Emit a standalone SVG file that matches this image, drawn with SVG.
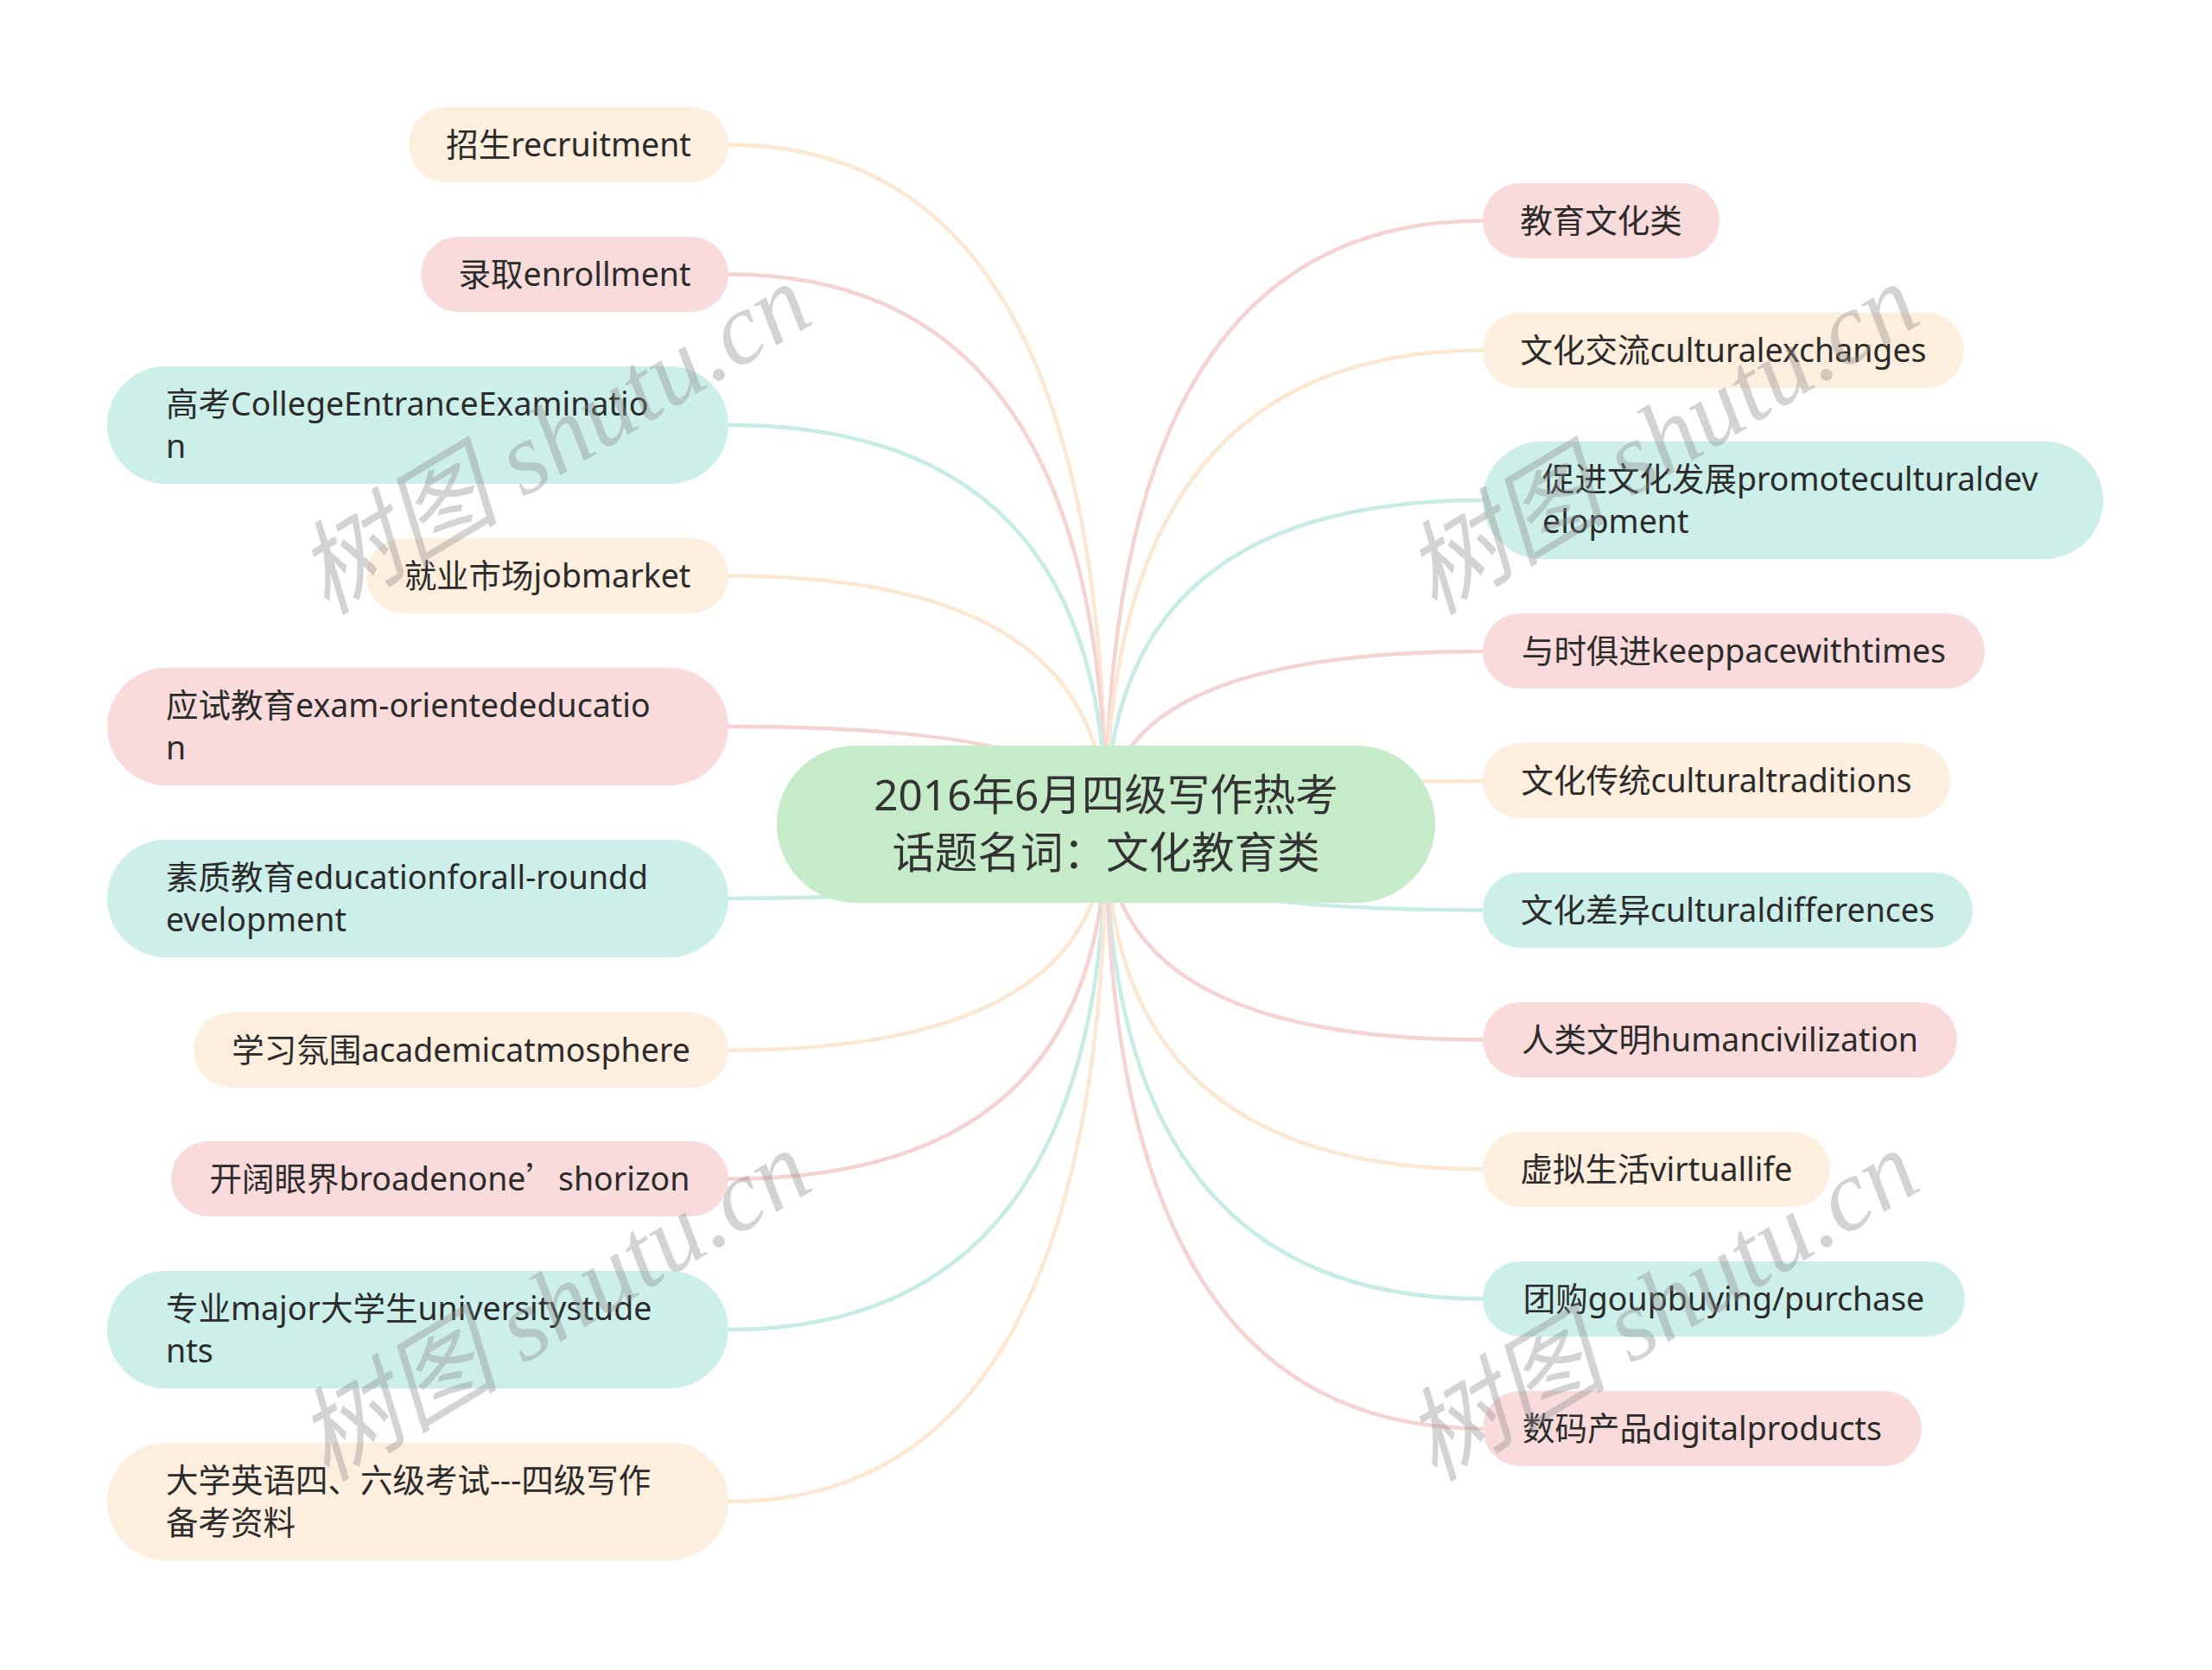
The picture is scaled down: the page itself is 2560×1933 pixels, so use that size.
<svg xmlns="http://www.w3.org/2000/svg" width="2560" height="1933" viewBox="0 0 2560 1933">
<style>
.bg{fill:#ffffff}
.c{fill:none;stroke-width:4.5;stroke-linecap:round}
.cp{stroke:#f6d3d3}
.co{stroke:#fce7d2}
.ct{stroke:#c6ece5}
.np{fill:#fadbdb}
.no{fill:#fdeedd}
.nt{fill:#cdefe9}
.root{fill:#c6ebc9}
text{font-family:"Noto Sans","Noto Sans CJK SC",sans-serif;fill:#2b2b2b}
.t{font-size:37.5px}
.m{text-anchor:middle}
.rt{font-size:49.5px;text-anchor:middle;fill:#333333}
.wm{font-family:"Liberation Serif","Noto Sans CJK SC",serif;font-style:italic;font-size:118px;fill:#8c8c8c;fill-opacity:0.38;text-anchor:middle}
.q{font-family:"Noto Sans CJK SC",sans-serif}
</style>
<rect class="bg" x="0" y="0" width="2560" height="1933"/>
<g id="connectors">
<path class="c co" d="M1280 954 Q1280 167.5 843 167.5"/>
<path class="c cp" d="M1280 954 Q1280 317.5 843 317.5"/>
<path class="c ct" d="M1280 954 Q1280 492 843 492"/>
<path class="c co" d="M1280 954 Q1280 666.5 843 666.5"/>
<path class="c cp" d="M1280 954 Q1280 841 843 841"/>
<path class="c ct" d="M1280 954 Q1280 1040 843 1040"/>
<path class="c co" d="M1280 954 Q1280 1215.5 843 1215.5"/>
<path class="c cp" d="M1280 954 Q1280 1364.5 843 1364.5"/>
<path class="c ct" d="M1280 954 Q1280 1539 843 1539"/>
<path class="c co" d="M1280 954 Q1280 1738 843 1738"/>
<path class="c cp" d="M1280 954 Q1280 255.5 1716 255.5"/>
<path class="c co" d="M1280 954 Q1280 405.5 1716 405.5"/>
<path class="c ct" d="M1280 954 Q1280 579 1716 579"/>
<path class="c cp" d="M1280 954 Q1280 754 1716 754"/>
<path class="c co" d="M1280 954 Q1280 904 1716 904"/>
<path class="c ct" d="M1280 954 Q1280 1053.5 1716 1053.5"/>
<path class="c cp" d="M1280 954 Q1280 1203.5 1716 1203.5"/>
<path class="c co" d="M1280 954 Q1280 1353.5 1716 1353.5"/>
<path class="c ct" d="M1280 954 Q1280 1503.5 1716 1503.5"/>
<path class="c cp" d="M1280 954 Q1280 1653.5 1716 1653.5"/>
</g>
<g id="n-l1"><rect class="no" x="473" y="124" width="370" height="87" rx="43.5"/><text class="t m" x="658" y="180.5">招生recruitment</text></g>
<g id="n-l2"><rect class="np" x="487" y="274" width="356" height="87" rx="43.5"/><text class="t m" x="665" y="330.5">录取enrollment</text></g>
<g id="n-l3"><rect class="nt" x="124" y="424" width="719" height="136" rx="68"/><text class="t" x="192" y="481">高考CollegeEntranceExaminatio</text><text class="t" x="192" y="530">n</text></g>
<g id="n-l4"><rect class="no" x="424" y="623" width="419" height="87" rx="43.5"/><text class="t m" x="633.5" y="679.5">就业市场jobmarket</text></g>
<g id="n-l5"><rect class="np" x="124" y="773" width="719" height="136" rx="68"/><text class="t" x="192" y="830">应试教育exam-orientededucatio</text><text class="t" x="192" y="879">n</text></g>
<g id="n-l6"><rect class="nt" x="124" y="972" width="719" height="136" rx="68"/><text class="t" x="192" y="1029">素质教育educationforall-roundd</text><text class="t" x="192" y="1078">evelopment</text></g>
<g id="n-l7"><rect class="no" x="224" y="1172" width="619" height="87" rx="43.5"/><text class="t m" x="533.5" y="1228.5">学习氛围academicatmosphere</text></g>
<g id="n-l8"><rect class="np" x="198" y="1321" width="645" height="87" rx="43.5"/><text class="t m" x="520.5" y="1377.5">开阔眼界broadenone<tspan class="q">’</tspan>shorizon</text></g>
<g id="n-l9"><rect class="nt" x="124" y="1471" width="719" height="136" rx="68"/><text class="t" x="192" y="1528">专业major大学生universitystude</text><text class="t" x="192" y="1577">nts</text></g>
<g id="n-l10"><rect class="no" x="124" y="1670" width="719" height="136" rx="68"/><text class="t" x="192" y="1727">大学英语四、六级考试---四级写作</text><text class="t" x="192" y="1776">备考资料</text></g>
<g id="n-r1"><rect class="np" x="1716" y="212" width="274" height="87" rx="43.5"/><text class="t m" x="1853" y="268.5">教育文化类</text></g>
<g id="n-r2"><rect class="no" x="1716" y="362" width="557" height="87" rx="43.5"/><text class="t m" x="1994.5" y="418.5">文化交流culturalexchanges</text></g>
<g id="n-r3"><rect class="nt" x="1716" y="511" width="718" height="136" rx="68"/><text class="t" x="1785" y="568">促进文化发展promoteculturaldev</text><text class="t" x="1785" y="617">elopment</text></g>
<g id="n-r4"><rect class="np" x="1716" y="710" width="581" height="87" rx="43.5"/><text class="t m" x="2006.5" y="767">与时俱进keeppacewithtimes</text></g>
<g id="n-r5"><rect class="no" x="1716" y="860" width="541" height="87" rx="43.5"/><text class="t m" x="1986.5" y="917">文化传统culturaltraditions</text></g>
<g id="n-r6"><rect class="nt" x="1716" y="1010" width="567" height="87" rx="43.5"/><text class="t m" x="1999.5" y="1066.5">文化差异culturaldifferences</text></g>
<g id="n-r7"><rect class="np" x="1716" y="1160" width="549" height="87" rx="43.5"/><text class="t m" x="1990.5" y="1216.5">人类文明humancivilization</text></g>
<g id="n-r8"><rect class="no" x="1716" y="1310" width="402" height="87" rx="43.5"/><text class="t m" x="1917" y="1366.5">虚拟生活virtuallife</text></g>
<g id="n-r9"><rect class="nt" x="1716" y="1460" width="558" height="87" rx="43.5"/><text class="t m" x="1995" y="1516.5">团购goupbuying/purchase</text></g>
<g id="n-r10"><rect class="np" x="1716" y="1610" width="508" height="87" rx="43.5"/><text class="t m" x="1970" y="1666.5">数码产品digitalproducts</text></g>
<g id="root"><rect class="root" x="899" y="863" width="762" height="182" rx="91"/><text class="rt" x="1280" y="938">2016年6月四级写作热考</text><text class="rt" x="1280" y="1005">话题名词：文化教育类</text></g>
<g id="watermarks">
<text class="wm" transform="translate(645,515) rotate(-31)" x="0" y="32">树图 shutu.cn</text>
<text class="wm" transform="translate(645,1518) rotate(-31)" x="0" y="32">树图 shutu.cn</text>
<text class="wm" transform="translate(1927,515) rotate(-31)" x="0" y="32">树图 shutu.cn</text>
<text class="wm" transform="translate(1927,1518) rotate(-31)" x="0" y="32">树图 shutu.cn</text>
</g>
</svg>
